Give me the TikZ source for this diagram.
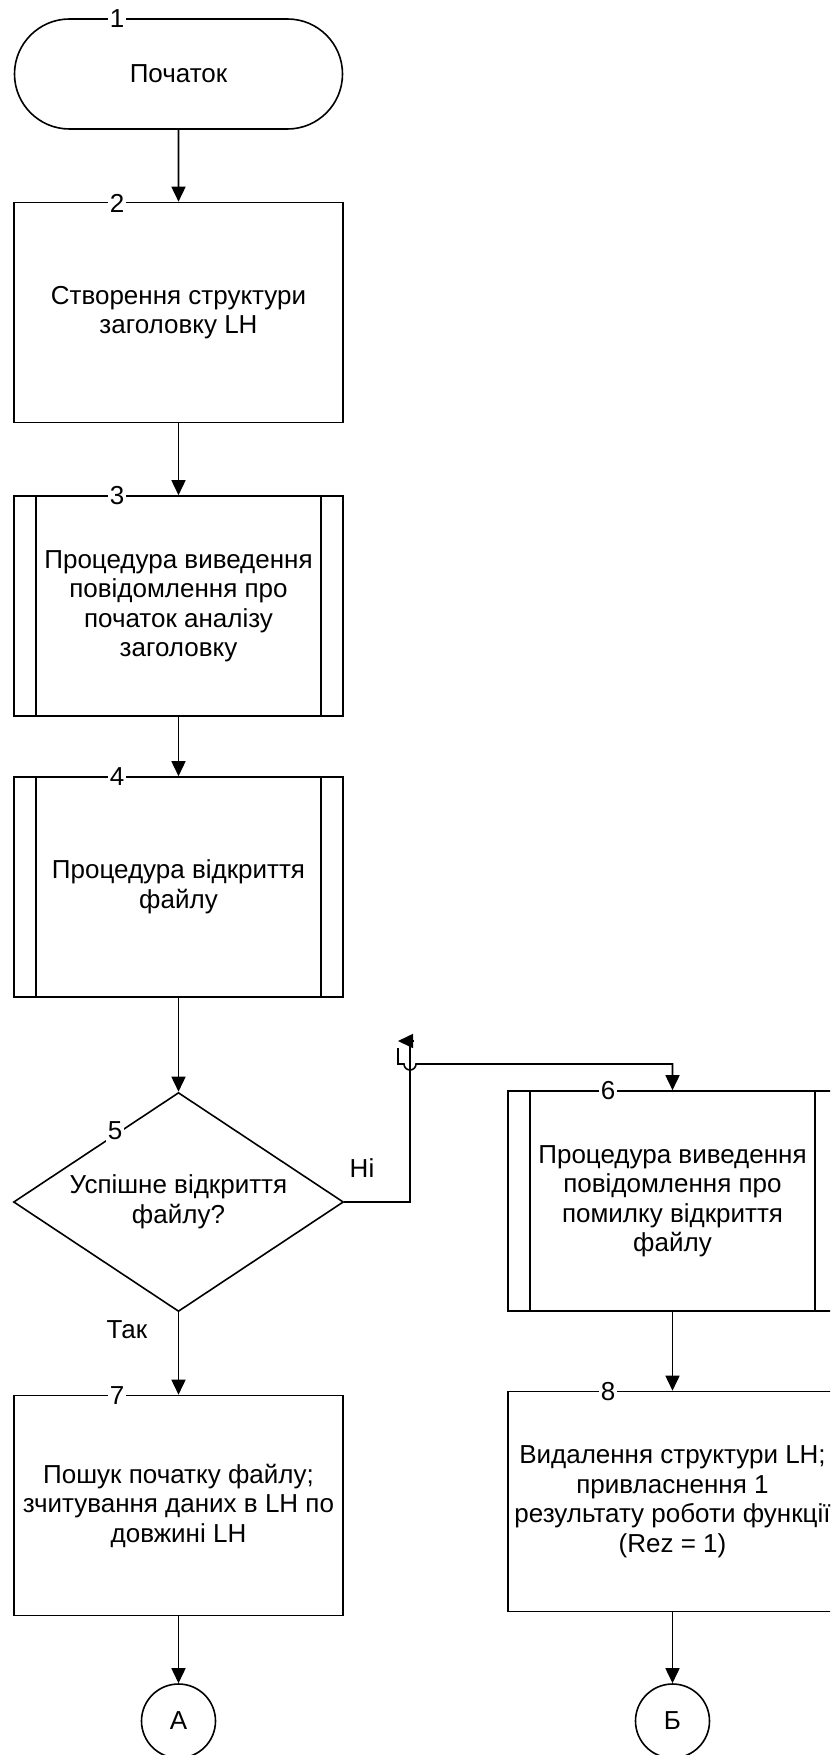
\documentclass[tikz,border=0pt]{standalone}
\usepackage{fontspec}
\setmainfont{Liberation Sans}
\usetikzlibrary{arrows.meta,shapes.geometric,shapes.misc}

\tikzset{
  base/.style={draw, line width=1.6pt, inner sep=0pt, align=center,
    font=\fontsize{26}{29.5}\selectfont},
  procbox/.style={base, rectangle, minimum width=329pt, minimum height=220pt},
  subbox/.style={procbox, path picture={
      \draw[line width=1.6pt]
        ([xshift=22pt]path picture bounding box.north west) --
        ([xshift=22pt]path picture bounding box.south west)
        ([xshift=-22pt]path picture bounding box.north east) --
        ([xshift=-22pt]path picture bounding box.south east);}},
  termbox/.style={base, rounded rectangle, minimum width=328pt, minimum height=110pt},
  decbox/.style={base, diamond, aspect=1.5, minimum width=330pt, minimum height=219pt},
  connbox/.style={base, circle, minimum size=74pt},
  numlbl/.style={fill=white, inner sep=2pt, font=\fontsize{26}{29.5}\selectfont},
  txt/.style={inner sep=0pt, font=\fontsize{26}{29.5}\selectfont},
  arr/.style={line width=1.6pt, -{Triangle[length=15pt,width=14pt]}},
  ln/.style={line width=1.6pt}
}

\begin{document}
\begin{tikzpicture}[x=1pt, y=-1pt]
\useasboundingbox (0,0) rectangle (830,1755);
\clip (0,0) rectangle (830,1755);

% blocks of the main column
\node[termbox] (t1) at (178.5,74) {Початок};
\node[procbox] (b2) at (178.5,312.5) {Створення структури\\заголовку LH};
\node[subbox]  (b3) at (178.5,606) {Процедура виведення\\повідомлення про\\початок аналізу\\заголовку};
\node[subbox]  (b4) at (178.5,887) {Процедура відкриття\\файлу};
\node[decbox]  (d5) at (178.5,1202) {Успішне відкриття\\файлу?};
\node[procbox] (b7) at (178.5,1505.5) {Пошук початку файлу;\\зчитування даних в LH по\\довжині LH};
\node[connbox] (cA) at (178.5,1721) {А};

% blocks of the right column
\node[subbox]  (b6) at (672.5,1201) {Процедура виведення\\повідомлення про\\помилку відкриття\\файлу};
\node[procbox] (b8) at (672.5,1501.5) {Видалення структури LH;\\привласнення 1\\результату роботи функції\\(Rez = 1)};
\node[connbox] (cB) at (672.5,1721) {Б};

% block numbers
\node[numlbl] (n1) at (117,19)   {1};
\node[numlbl] (n2) at (117,203)  {2};
\node[numlbl] (n3) at (117,496)  {3};
\node[numlbl] (n4) at (117,777)  {4};
\node[numlbl] (n5) at (115,1131) {5};
\node[numlbl] (n6) at (608,1091) {6};
\node[numlbl] (n7) at (117,1396) {7};
\node[numlbl] (n8) at (608,1392) {8};

% flow of the main column
\draw[arr] (t1) -- (b2);
\draw[arr] (b2) -- (b3);
\draw[arr] (b3) -- (b4);
\draw[arr] (b4) -- (d5);
\draw[arr] (d5) -- (b7);
\draw[arr] (b7) -- (cA);
\draw[arr] (b6) -- (b8);
\draw[arr] (b8) -- (cB);

% "no" branch with its line hop
\coordinate (up)    at (410,1041);
\coordinate (tipb)  at (414,1041);
\coordinate (tipa)  at (398,1041);
\coordinate (stub)  at (398,1048);
\coordinate (bend)  at (398,1064);
\coordinate (hopl)  at (404,1064);
\draw[ln] (d5.east) -| (up);
\draw[arr] (tipb) -- (tipa);
\draw[arr] (stub) -- (bend) -- (hopl) arc[start angle=180, end angle=0, radius=6] -| (b6.north);

% branch labels
\node[txt] (no)  at (362,1168) {Ні};
\node[txt] (yes) at (127,1330) {Так};
\end{tikzpicture}
\end{document}
